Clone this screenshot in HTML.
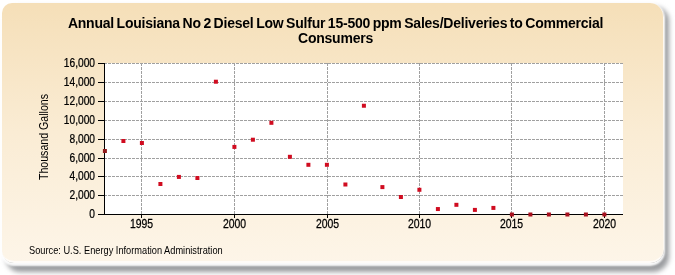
<!DOCTYPE html>
<html><head><meta charset="utf-8"><style>
html,body{margin:0;padding:0;background:#fff;width:675px;height:275px;overflow:hidden}
.box{position:absolute;left:2px;top:3px;width:661px;height:258px;border-radius:10px 14px 14px 12px;
border-right:1px solid #fdf8f0;border-bottom:2px solid #fffcf8;
background:linear-gradient(to bottom,#f5dfb8 0%,#faecd4 50%,#fdf5e8 100%);box-shadow:0 1.5px 2px 1px rgba(255,255,255,.95)}
.shd{position:absolute;left:6px;top:7px;width:663px;height:265px;border-radius:14px 14px 16px 14px;background:#9a9c9f;filter:blur(2.5px)}
svg{position:absolute;left:0;top:0}
text{font-family:"Liberation Sans",sans-serif}
#wrap{position:absolute;left:0;top:0;width:675px;height:275px;filter:blur(0.5px)}
</style></head><body>
<div id="wrap"><div class="shd"></div><div class="box"></div>
<svg width="675" height="275" viewBox="0 0 675 275">
<g shape-rendering="crispEdges">
<rect x="104" y="63" width="519" height="151" fill="#fff"/>
<path d="M104 195.5H623 M104 176.5H623 M104 158.5H623 M104 139.5H623 M104 120.5H623 M104 101.5H623 M104 82.5H623 M104 63.5H623 M141.5 63V214 M234.5 63V214 M327.5 63V214 M419.5 63V214 M511.5 63V214 M604.5 63V214" stroke="#a0a0a0" stroke-width="1" stroke-dasharray="3,1" fill="none"/>
<path d="M104.5 63V215M104 214.5H623 M98 214.5H104 M98 195.5H104 M98 176.5H104 M98 158.5H104 M98 139.5H104 M98 120.5H104 M98 101.5H104 M98 82.5H104 M98 63.5H104 M141.5 215V218 M234.5 215V218 M327.5 215V218 M419.5 215V218 M511.5 215V218 M604.5 215V218" stroke="#000" stroke-width="1" fill="none"/>
</g>
<g fill="#d00c20"><rect x="102.90" y="149.00" width="4" height="4" fill="#901a1a"/><rect x="121.40" y="139.00" width="4" height="4"/><rect x="139.90" y="141.00" width="4" height="4"/><rect x="158.40" y="182.00" width="4" height="4"/><rect x="176.90" y="174.91" width="4" height="4"/><rect x="195.40" y="176.00" width="4" height="4"/><rect x="213.90" y="79.71" width="4" height="4"/><rect x="232.40" y="144.91" width="4" height="4"/><rect x="250.90" y="137.71" width="4" height="4"/><rect x="269.40" y="120.81" width="4" height="4"/><rect x="287.90" y="154.80" width="4" height="4"/><rect x="306.40" y="162.80" width="4" height="4"/><rect x="324.90" y="162.80" width="4" height="4"/><rect x="343.40" y="182.50" width="4" height="4"/><rect x="361.90" y="103.74" width="4" height="4"/><rect x="380.40" y="185.10" width="4" height="4"/><rect x="398.90" y="195.01" width="4" height="4"/><rect x="417.40" y="187.78" width="4" height="4"/><rect x="435.90" y="207.05" width="4" height="4"/><rect x="454.40" y="202.82" width="4" height="4"/><rect x="472.90" y="207.90" width="4" height="4"/><rect x="491.40" y="205.91" width="4" height="4"/><rect x="509.90" y="212.50" width="4" height="4" fill="#a8101e"/><rect x="528.40" y="212.50" width="4" height="4" fill="#a8101e"/><rect x="546.90" y="212.50" width="4" height="4" fill="#a8101e"/><rect x="565.40" y="212.50" width="4" height="4" fill="#a8101e"/><rect x="583.90" y="212.50" width="4" height="4" fill="#a8101e"/><rect x="602.40" y="212.50" width="4" height="4" fill="#a8101e"/></g>
<g font-family="Liberation Sans" font-size="12" fill="#000" stroke="#000" stroke-width="0.25"><text transform="translate(95 218.1) scale(0.85 1)" text-anchor="end">0</text><text transform="translate(95 199.1) scale(0.85 1)" text-anchor="end">2,000</text><text transform="translate(95 180.1) scale(0.85 1)" text-anchor="end">4,000</text><text transform="translate(95 162.1) scale(0.85 1)" text-anchor="end">6,000</text><text transform="translate(95 143.1) scale(0.85 1)" text-anchor="end">8,000</text><text transform="translate(95 124.1) scale(0.85 1)" text-anchor="end">10,000</text><text transform="translate(95 105.1) scale(0.85 1)" text-anchor="end">12,000</text><text transform="translate(95 86.1) scale(0.85 1)" text-anchor="end">14,000</text><text transform="translate(95 67.1) scale(0.85 1)" text-anchor="end">16,000</text><text transform="translate(141.5 228) scale(0.87 1)" text-anchor="middle">1995</text><text transform="translate(234.5 228) scale(0.87 1)" text-anchor="middle">2000</text><text transform="translate(327.5 228) scale(0.87 1)" text-anchor="middle">2005</text><text transform="translate(419.5 228) scale(0.87 1)" text-anchor="middle">2010</text><text transform="translate(511.5 228) scale(0.87 1)" text-anchor="middle">2015</text><text transform="translate(604.5 228) scale(0.87 1)" text-anchor="middle">2020</text></g>
<text x="335.5" y="28.3" text-anchor="middle" font-family="Liberation Sans" font-weight="bold" font-size="14" letter-spacing="-0.23" word-spacing="-1">Annual Louisiana No 2 Diesel Low Sulfur 15-500 ppm Sales/Deliveries to Commercial</text>
<text x="335.5" y="43" text-anchor="middle" font-family="Liberation Sans" font-weight="bold" font-size="14" letter-spacing="-0.23" word-spacing="-1">Consumers</text>
<text transform="translate(47.5 137) rotate(-90) scale(0.885 1)" text-anchor="middle" font-family="Liberation Sans" font-size="12">Thousand Gallons</text>
<text transform="translate(29 253.5) scale(0.925 1)" font-family="Liberation Sans" font-size="10">Source: U.S. Energy Information Administration</text>
</svg></div>
</body></html>
